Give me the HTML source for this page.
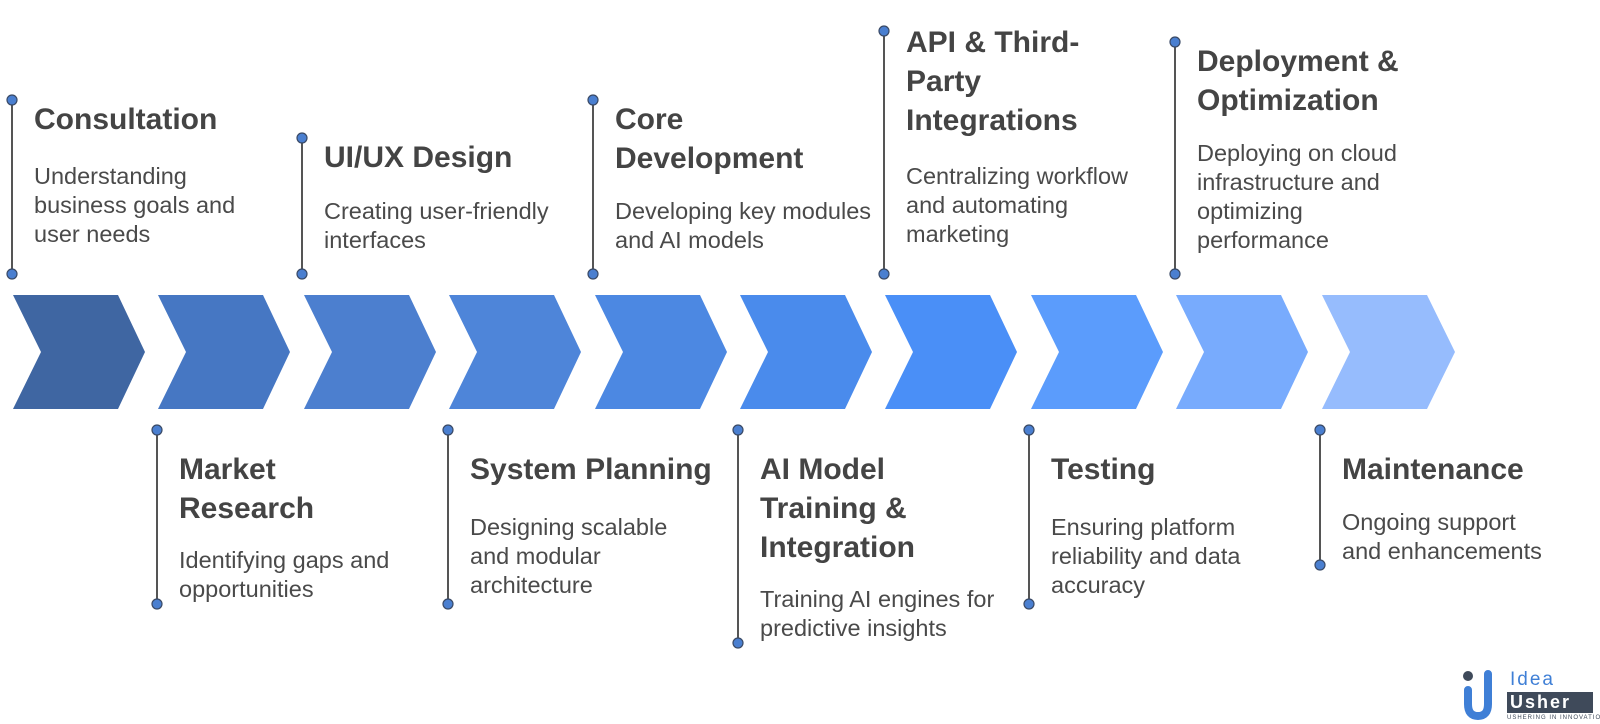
<!DOCTYPE html>
<html><head><meta charset="utf-8"><style>
html,body{margin:0;padding:0;background:#fff;}
body{width:1600px;height:724px;position:relative;overflow:hidden;font-family:"Liberation Sans",Arial,sans-serif;}
.t{position:absolute;font-size:30px;font-weight:bold;color:#444;line-height:39px;white-space:nowrap;}
.d{position:absolute;font-size:23.5px;color:#4a4a4a;line-height:29px;white-space:nowrap;}
</style></head><body>
<svg width="1600" height="724" style="position:absolute;left:0;top:0">
<g>
<polygon points="13,295 118,295 145,352 118,409 13,409 41,352" fill="#3f66a2"/>
<polygon points="158,295 263,295 290,352 263,409 158,409 186,352" fill="#4677c3"/>
<polygon points="304,295 409,295 436,352 409,409 304,409 332,352" fill="#4c7fcf"/>
<polygon points="449,295 554,295 581,352 554,409 449,409 477,352" fill="#4e85d9"/>
<polygon points="595,295 700,295 727,352 700,409 595,409 623,352" fill="#4c88e2"/>
<polygon points="740,295 845,295 872,352 845,409 740,409 768,352" fill="#4a8bec"/>
<polygon points="885,295 990,295 1017,352 990,409 885,409 913,352" fill="#4a8ff7"/>
<polygon points="1031,295 1136,295 1163,352 1136,409 1031,409 1059,352" fill="#5b9cfc"/>
<polygon points="1176,295 1281,295 1308,352 1281,409 1176,409 1204,352" fill="#78abfd"/>
<polygon points="1322,295 1427,295 1455,352 1427,409 1322,409 1350,352" fill="#96bcfd"/>
</g>
<g stroke="#555" stroke-width="2">
<line x1="12" y1="100" x2="12" y2="274"/>
<line x1="302" y1="138" x2="302" y2="274"/>
<line x1="593" y1="100" x2="593" y2="274"/>
<line x1="884" y1="31" x2="884" y2="274"/>
<line x1="1175" y1="42" x2="1175" y2="274"/>
<line x1="157" y1="430" x2="157" y2="604"/>
<line x1="448" y1="430" x2="448" y2="604"/>
<line x1="738" y1="430" x2="738" y2="643"/>
<line x1="1029" y1="430" x2="1029" y2="604"/>
<line x1="1320" y1="430" x2="1320" y2="565"/>
</g>
<g fill="#4a7fd0" stroke="#3a4a66" stroke-width="1.2">
<circle cx="12" cy="100" r="5"/><circle cx="12" cy="274" r="5"/>
<circle cx="302" cy="138" r="5"/><circle cx="302" cy="274" r="5"/>
<circle cx="593" cy="100" r="5"/><circle cx="593" cy="274" r="5"/>
<circle cx="884" cy="31" r="5"/><circle cx="884" cy="274" r="5"/>
<circle cx="1175" cy="42" r="5"/><circle cx="1175" cy="274" r="5"/>
<circle cx="157" cy="430" r="5"/><circle cx="157" cy="604" r="5"/>
<circle cx="448" cy="430" r="5"/><circle cx="448" cy="604" r="5"/>
<circle cx="738" cy="430" r="5"/><circle cx="738" cy="643" r="5"/>
<circle cx="1029" cy="430" r="5"/><circle cx="1029" cy="604" r="5"/>
<circle cx="1320" cy="430" r="5"/><circle cx="1320" cy="565" r="5"/>
</g>
<!-- logo -->
<circle cx="1468" cy="676" r="5" fill="#3f4a5a"/>
<path d="M1468,690 L1468,704 Q1468,716 1478,716 Q1488,716 1488,704 L1488,674" fill="none" stroke="#3f7fd6" stroke-width="8" stroke-linecap="round"/>
<rect x="1507" y="692" width="86" height="21" fill="#3f4a5a"/>
</svg>
<div style="position:absolute;left:1510px;top:670px;font-size:19px;color:#3f7fd6;letter-spacing:2px;line-height:20px;">Idea</div>
<div style="position:absolute;left:1510px;top:692px;font-size:18px;font-weight:bold;color:#fff;letter-spacing:2px;line-height:21px;">Usher</div>
<div style="position:absolute;left:1507px;top:715px;font-size:6px;color:#3f4a5a;letter-spacing:1px;white-space:nowrap;line-height:7px;">USHERING IN INNOVATION</div>

<div class="t" style="left:34px;top:100px">Consultation</div>
<div class="d" style="left:34px;top:162px">Understanding<br>business goals and<br>user needs</div>

<div class="t" style="left:324px;top:138px">UI/UX Design</div>
<div class="d" style="left:324px;top:197px">Creating user-friendly<br>interfaces</div>

<div class="t" style="left:615px;top:100px">Core<br>Development</div>
<div class="d" style="left:615px;top:197px">Developing key modules<br>and AI models</div>

<div class="t" style="left:906px;top:23px">API &amp; Third-<br>Party<br>Integrations</div>
<div class="d" style="left:906px;top:162px">Centralizing workflow<br>and automating<br>marketing</div>

<div class="t" style="left:1197px;top:42px">Deployment &amp;<br>Optimization</div>
<div class="d" style="left:1197px;top:139px">Deploying on cloud<br>infrastructure and<br>optimizing<br>performance</div>

<div class="t" style="left:179px;top:450px">Market<br>Research</div>
<div class="d" style="left:179px;top:546px">Identifying gaps and<br>opportunities</div>

<div class="t" style="left:470px;top:450px">System Planning</div>
<div class="d" style="left:470px;top:513px">Designing scalable<br>and modular<br>architecture</div>

<div class="t" style="left:760px;top:450px">AI Model<br>Training &amp;<br>Integration</div>
<div class="d" style="left:760px;top:585px">Training AI engines for<br>predictive insights</div>

<div class="t" style="left:1051px;top:450px">Testing</div>
<div class="d" style="left:1051px;top:513px">Ensuring platform<br>reliability and data<br>accuracy</div>

<div class="t" style="left:1342px;top:450px">Maintenance</div>
<div class="d" style="left:1342px;top:508px">Ongoing support<br>and enhancements</div>
</body></html>
